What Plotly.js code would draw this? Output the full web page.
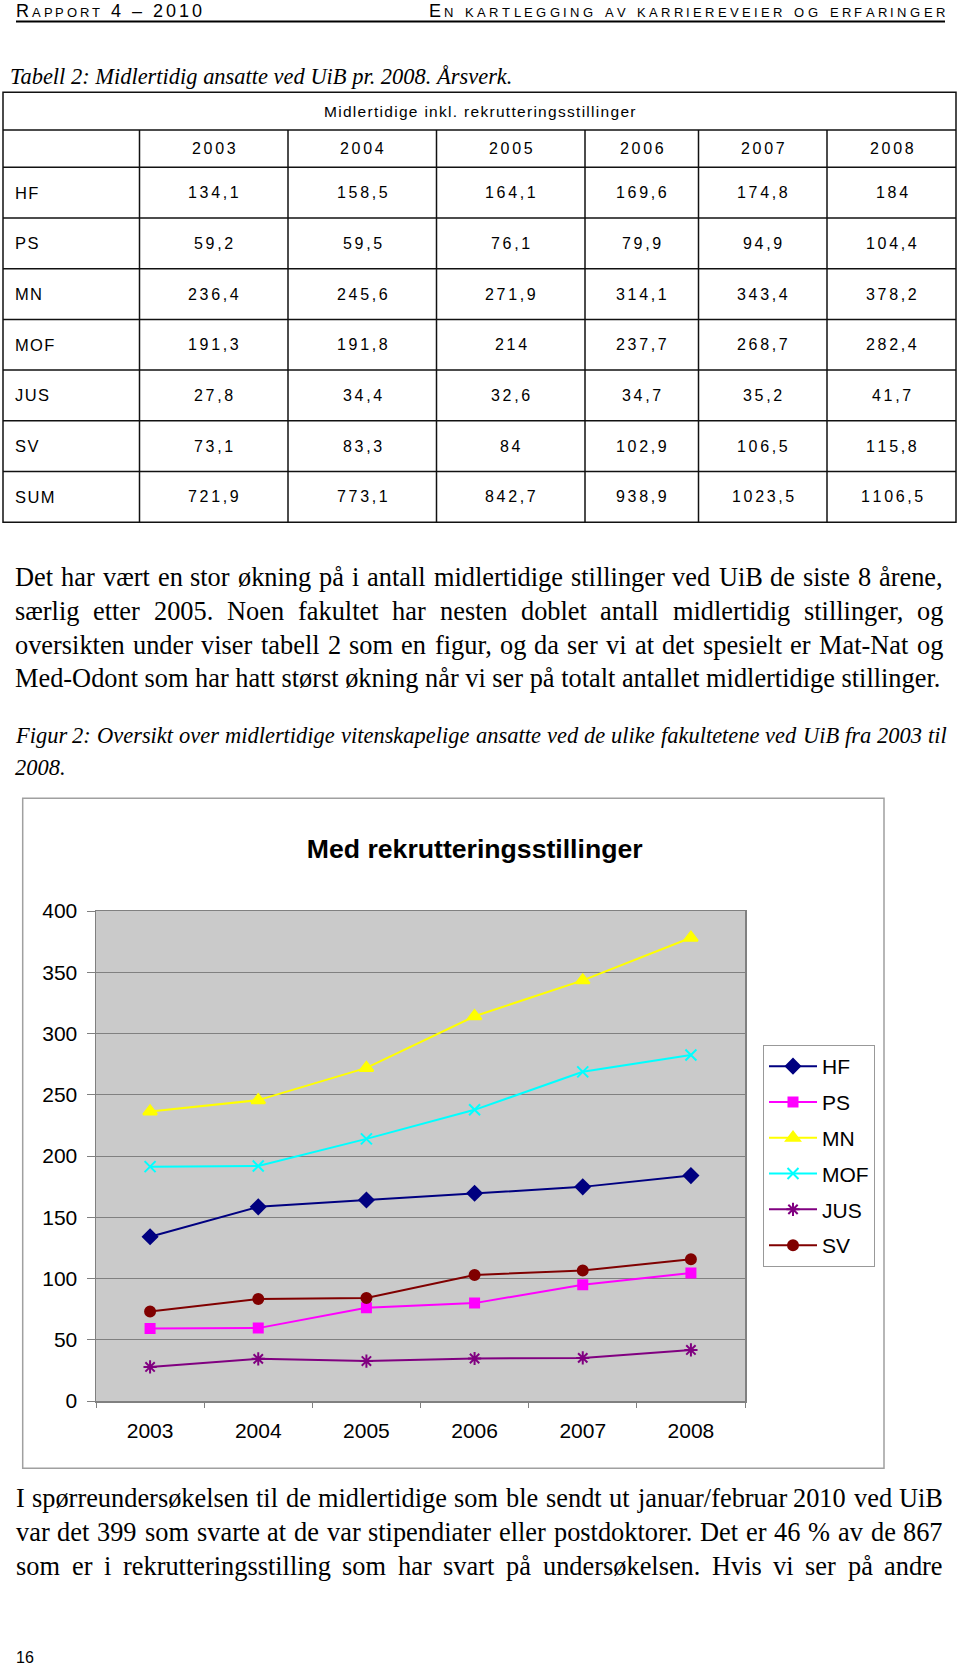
<!DOCTYPE html>
<html>
<head>
<meta charset="utf-8">
<script src="https://cdn.plot.ly/plotly-3.0.1.min.js"></script>
<style>
  html, body { margin: 0; padding: 0; background: #fff; }
  #page { width: 960px; height: 1668px; }
</style>
</head>
<body>
<div id="page"></div>
<script>
// --- data (Tabell 2, årsverk) ---
var years = ['2003', '2004', '2005', '2006', '2007', '2008'];
var faculties = ['HF', 'PS', 'MN', 'MOF', 'JUS', 'SV'];
var hf  = [134.1, 158.5, 164.1, 169.6, 174.8, 184];
var ps  = [59.2, 59.5, 76.1, 79.9, 94.9, 104.4];
var mn  = [236.4, 245.6, 271.9, 314.1, 343.4, 378.2];
var mof = [191.3, 191.8, 214, 237.7, 268.7, 282.4];
var jus = [27.8, 34.4, 32.6, 34.7, 35.2, 41.7];
var sv  = [73.1, 83.3, 84, 102.9, 106.5, 115.8];
var sum = [721.9, 773.1, 842.7, 938.9, 1023.5, 1106.5];

// --- page text ---
var headLeft = 'Rapport 4 – 2010';
var headRight = 'En kartlegging av karriereveier og erfaringer';
var tableTitle = 'Tabell 2: Midlertidig ansatte ved UiB pr. 2008. Årsverk.';
var tableHead = 'Midlertidige inkl. rekrutteringsstillinger';
var para1 = [
  'Det har vært en stor økning på i antall midlertidige stillinger ved UiB de siste 8 årene,',
  'særlig etter 2005. Noen fakultet har nesten doblet antall midlertidig stillinger, og',
  'oversikten under viser tabell 2 som en figur, og da ser vi at det spesielt er Mat-Nat og',
  'Med-Odont som har hatt størst økning når vi ser på totalt antallet midlertidige stillinger.'
];
var caption = [
  'Figur 2: Oversikt over midlertidige vitenskapelige ansatte ved de ulike fakultetene ved UiB fra 2003 til',
  '2008.'
];
var para2 = [
  'I spørreundersøkelsen til de midlertidige som ble sendt ut januar/februar 2010 ved UiB',
  'var det 399 som svarte at de var stipendiater eller postdoktorer. Det er 46 % av de 867',
  'som er i rekrutteringsstilling som har svart på undersøkelsen. Hvis vi ser på andre'
];
var chartTitle = 'Med rekrutteringsstillinger';
var pageNo = '16';

var W = 960, H = 1668;
var SANS = 'Liberation Sans, Arial, sans-serif';
var SERIF = 'Liberation Serif, Times New Roman, serif';
function fx(x) { return x / W; }
function fy(y) { return 1 - y / H; }

var cv = document.createElement('canvas').getContext('2d');
function measure(s, css) { cv.font = css; return cv.measureText(s).width; }
function serifCss(size, style) { return (style || 'normal') + ' normal normal ' + size + 'px "Liberation Serif"'; }

var annotations = [];
var shapes = [];

function addText(s, x, baseline, size, o) {
  o = o || {};
  annotations.push({
    xref: 'paper', yref: 'paper',
    x: fx(x), y: fy(baseline - 0.35 * size),
    xanchor: o.anchor || 'left', yanchor: 'middle',
    text: s, showarrow: false, borderpad: 0, borderwidth: 0,
    font: {
      family: o.family || SANS, size: size, color: '#000',
      style: o.style || 'normal', variant: o.variant || 'normal'
    }
  });
}

// small caps header, spread letter by letter over a given width
function spreadCaps(s, x0, baseline, size, width) {
  var css = 'normal small-caps normal ' + size + 'px "Liberation Sans"';
  var chars = s.split('');
  var ws = chars.map(function(c) { return measure(c, css); });
  var nat = ws.reduce(function(a, b) { return a + b; }, 0);
  var sp = (width - nat) / (chars.length - 1);
  var x = x0;
  chars.forEach(function(c, i) {
    if (c !== ' ') addText(c, x, baseline, size, {variant: 'small-caps'});
    x += ws[i] + sp;
  });
}

// justified lines: one annotation per word
function paragraph(lines, left, right, base, lead, size, style, justifyLast) {
  lines.forEach(function(line, i) {
    var y = base + i * lead;
    var o = {family: SERIF, style: style};
    if (i === lines.length - 1 && !justifyLast) { addText(line, left, y, size, o); return; }
    var words = line.split(' ');
    var ws = words.map(function(w) { return measure(w, serifCss(size, style)); });
    var tot = ws.reduce(function(a, b) { return a + b; }, 0);
    var gap = (right - left - tot) / (words.length - 1);
    var x = left;
    words.forEach(function(w, k) { addText(w, x, y, size, o); x += ws[k] + gap; });
  });
}

function fmt(v) { return String(v).replace('.', ','); }
function spaced(s, ch) { return s.split('').join(ch); }

// --- header ---
spreadCaps(headLeft, 16, 17.5, 18, 186);
spreadCaps(headRight, 429, 17.5, 18, 516);
shapes.push({type: 'line', xref: 'paper', yref: 'paper', x0: fx(16), x1: fx(945), y0: fy(21.5), y1: fy(21.5),
  line: {color: '#000', width: 2}});

// --- table ---
var italFs = 20 * 540 / measure(tableTitle, serifCss(20, 'italic'));
var capNat = measure(caption[0], serifCss(20, 'italic'));
italFs = Math.min(italFs, 20 * 925 / capNat);
addText(tableTitle, 10, 84.5, italFs, {family: SERIF, style: 'italic'});

var tTop = 92.3, tHead = 130, tYears = 167.3, rowH = 50.7, tLeft = 3, tRight = 956;
var cols = [139.5, 288, 436.5, 585, 698.5, 827, 956];
var tableRows = [hf, ps, mn, mof, jus, sv, sum];
var rowLabels = faculties.concat(['SUM']);
var tBottom = tYears + rowH * tableRows.length;
var tLine = {color: '#111', width: 1.5};

shapes.push({type: 'rect', xref: 'paper', yref: 'paper', x0: fx(tLeft), x1: fx(tRight), y0: fy(tTop), y1: fy(tBottom), line: tLine});
[tHead, tYears].concat(tableRows.map(function(r, i) { return tYears + rowH * i; }).slice(1)).forEach(function(y) {
  shapes.push({type: 'line', xref: 'paper', yref: 'paper', x0: fx(tLeft), x1: fx(tRight), y0: fy(y), y1: fy(y), line: tLine});
});
cols.slice(0, -1).forEach(function(x) {
  shapes.push({type: 'line', xref: 'paper', yref: 'paper', x0: fx(x), x1: fx(x), y0: fy(tHead), y1: fy(tBottom), line: tLine});
});

function cellText(s, xc, yc, size, anchor) {
  annotations.push({
    xref: 'paper', yref: 'paper', x: fx(xc), y: fy(yc), xanchor: anchor || 'center', yanchor: 'middle',
    text: s, showarrow: false, borderpad: 0, borderwidth: 0,
    font: {family: SANS, size: size, color: '#000'}
  });
}
cellText(spaced(tableHead, '\u200A'), (tLeft + tRight) / 2, (tTop + tHead) / 2, 15.5);
years.forEach(function(yr, j) {
  cellText(spaced(yr, '\u2006'), (cols[j] + cols[j + 1]) / 2, (tHead + tYears) / 2, 16);
});
tableRows.forEach(function(row, i) {
  var yc = tYears + rowH * (i + 0.5);
  cellText(spaced(rowLabels[i], '\u200A'), 15, yc, 16.5, 'left');
  row.forEach(function(v, j) {
    cellText(spaced(fmt(v), '\u2006'), (cols[j] + cols[j + 1]) / 2, yc, 16);
  });
});

// --- body text ---
var bodyFs = 20 * 926 / measure(para1[3], serifCss(20));
paragraph(para1, 15, 943, 587, 33.7, bodyFs, 'normal', false);
paragraph(caption, 15, 947, 743.5, 32.3, italFs, 'italic', false);
paragraph(para2, 16, 943, 1507.5, 34, bodyFs, 'normal', true);
addText(pageNo, 16, 1663, 16);

// --- chart frame ---
shapes.push({type: 'rect', xref: 'paper', yref: 'paper', layer: 'below',
  x0: fx(22.7), x1: fx(884), y0: fy(798.3), y1: fy(1468.3), line: {color: '#a0a0a0', width: 1.5}});

// --- chart ---
var values = {HF: hf, PS: ps, MN: mn, MOF: mof, JUS: jus, SV: sv};
var styles = {
  HF:  {color: '#000080', symbol: 'diamond', size: 11},
  PS:  {color: '#ff00ff', symbol: 'square', size: 9},
  MN:  {color: '#ffff00', symbol: 'triangle-up', size: 12},
  MOF: {color: '#00ffff', symbol: 'x-thin', size: 11},
  JUS: {color: '#800080', symbol: 'asterisk', size: 11},
  SV:  {color: '#800000', symbol: 'circle', size: 10}
};
var traces = faculties.map(function(f) {
  var st = styles[f];
  return {
    type: 'scatter', mode: 'lines+markers', name: f, legendgroup: f,
    x: years, y: values[f],
    line: {color: st.color, width: 2},
    marker: {symbol: st.symbol, size: st.size, color: st.color, line: {color: st.color, width: 2}}
  };
});

var titleFs = 26 * 336 / measure(chartTitle, 'normal normal bold 26px "Liberation Sans"');

var layout = {
  width: W, height: H,
  margin: {l: 0, r: 0, t: 0, b: 0},
  paper_bgcolor: '#fff',
  plot_bgcolor: '#cacaca',
  font: {family: SANS, color: '#000'},
  title: {
    text: chartTitle, xref: 'paper', yref: 'paper',
    x: fx(474.7), xanchor: 'center', y: fy(849), yanchor: 'middle',
    font: {family: SANS, size: titleFs, weight: 'bold', color: '#000'}
  },
  xaxis: {
    type: 'category', domain: [fx(96), fx(745)], range: [-0.5, 5.5],
    tickson: 'boundaries', ticks: 'outside', ticklen: 5, tickcolor: '#808080',
    showline: true, linecolor: '#808080', linewidth: 1.5, mirror: true,
    showgrid: false, zeroline: false, ticklabelstandoff: 10,
    tickfont: {family: SANS, size: 21, color: '#000'}
  },
  yaxis: {
    domain: [fy(1401), fy(911)], range: [0, 400], tick0: 0, dtick: 50,
    ticks: 'outside', ticklen: 8, tickcolor: '#808080',
    showline: true, linecolor: '#808080', linewidth: 1.5, mirror: true,
    showgrid: true, gridcolor: '#808080', gridwidth: 1, zeroline: false,
    ticklabelstandoff: 5,
    tickfont: {family: SANS, size: 21, color: '#000'}
  },
  showlegend: true,
  legend: {
    x: fx(763), y: fy(1045), xanchor: 'left', yanchor: 'top',
    bgcolor: '#fff', bordercolor: '#999', borderwidth: 1,
    font: {family: SANS, size: 21, color: '#000'},
    itemwidth: 48, tracegroupgap: 5.5, traceorder: 'grouped'
  },
  shapes: shapes,
  annotations: annotations
};

Plotly.newPlot('page', traces, layout, {displayModeBar: false, staticPlot: true});
</script>
</body>
</html>
